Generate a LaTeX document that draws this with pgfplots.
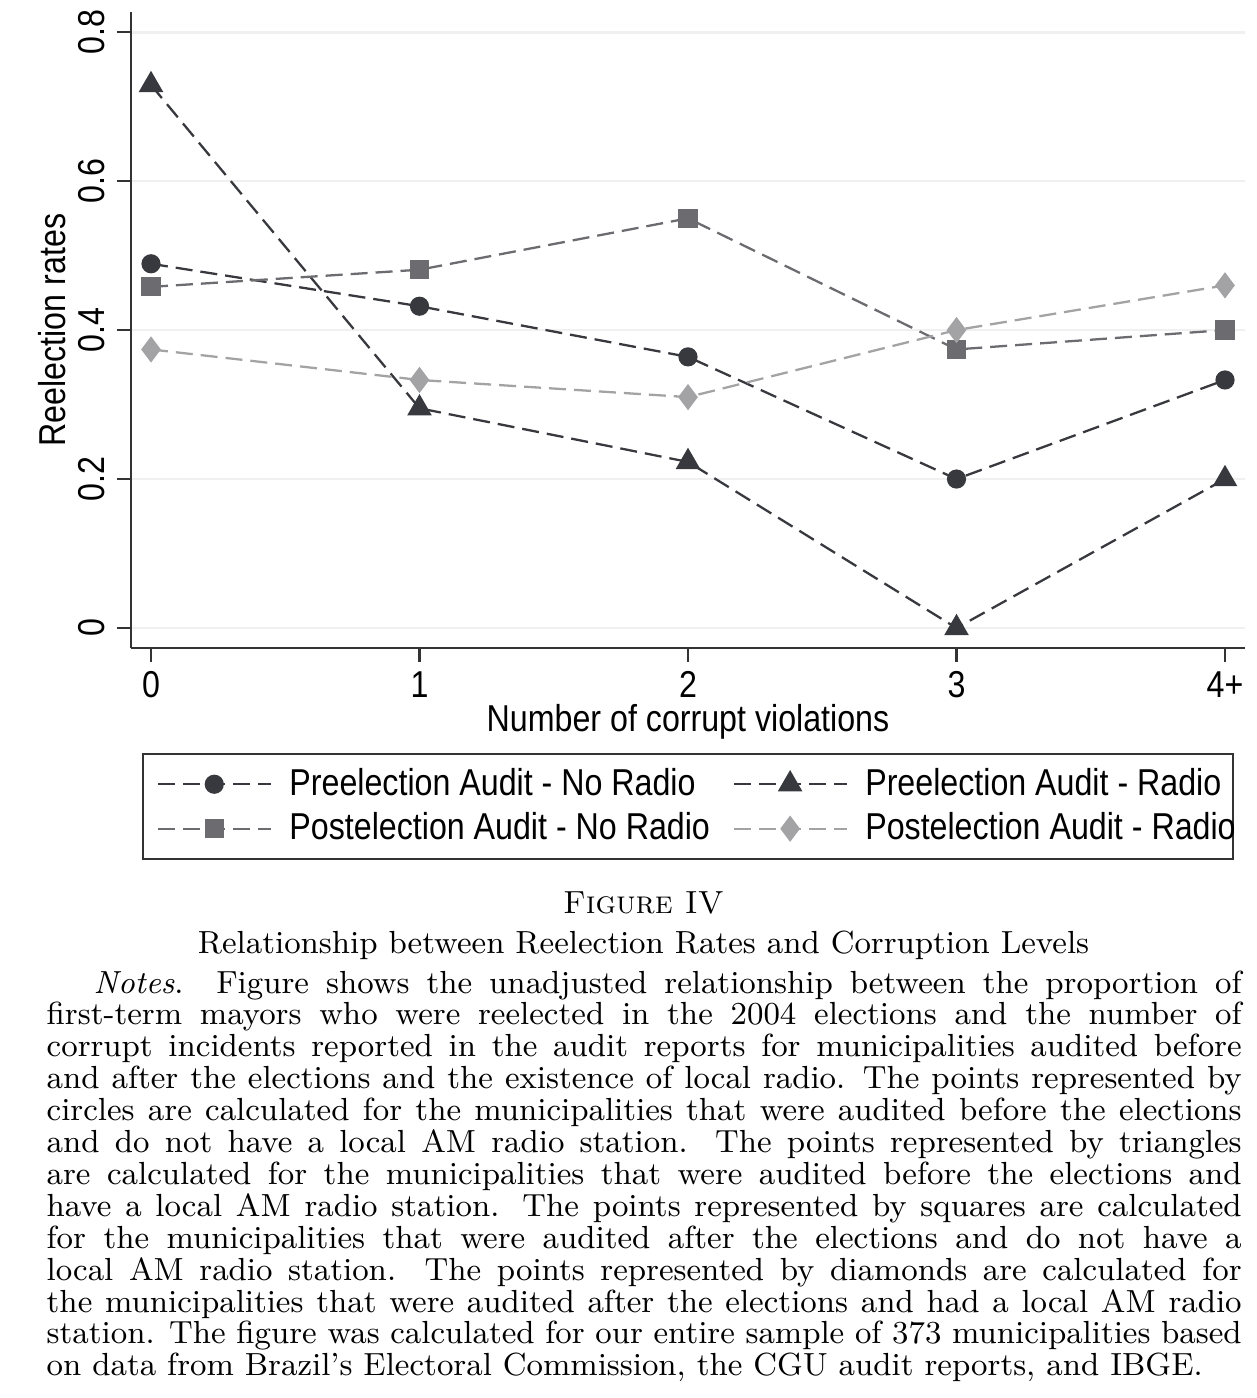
\documentclass[border=0pt]{standalone}
\usepackage{fontspec}
\usepackage{pgfplots}
\pgfplotsset{compat=1.18}

\newfontfamily\chartfont[FakeStretch=0.86]{Liberation Sans}
\newcommand\chartsize{\chartfont\fontsize{10.65}{12}\selectfont}
\newcommand\captfont{\rmfamily\fontsize{9.1}{9.07}\selectfont}

\definecolor{darkser}{HTML}{38393E}
\definecolor{midser}{HTML}{6B6B70}
\definecolor{lightser}{HTML}{A3A3A5}

\begin{document}
\begin{tikzpicture}[x=1cm,y=1cm]
\path[use as bounding box] (-1.31,-7.50) rectangle (11.25,6.48);
\begin{axis}[
    at={(0,0)}, anchor=south west,
    scale only axis, width=11.14cm, height=6.36cm,
    xmin=-0.0745, xmax=4.0745, ymin=-0.0268, ymax=0.827,
    axis x line*=bottom, axis y line*=left,
    axis line style={-, line width=0.6pt, color=black!80},
    tick align=outside, major tick length=0.14cm,
    tick style={line width=0.6pt, color=black!80},
    xtick={0,1,2,3,4}, xticklabels={0,1,2,3,4+},
    xticklabel style={inner sep=0.5pt, yshift=-0.07cm},
    ytick={0,0.2,0.4,0.6,0.8}, yticklabels={0,0.2,0.4,0.6,0.8},
    yticklabel style={rotate=90, anchor=south},
    ymajorgrids, grid style={color=black!6, line width=0.8pt},
    font=\chartsize,
    /pgf/number format/assume math mode=true,
    xlabel={Number of corrupt violations},
    ylabel={Reelection rates},
    xlabel style={at={(axis description cs:0.5,-0.1155)}, anchor=center, inner sep=0pt},
    ylabel style={at={(axis description cs:-0.0709,0.5)}, anchor=center},
    legend columns=2, legend cell align=left,
    legend style={at={(axis description cs:0.0099,-0.165)}, anchor=north west,
        draw=black!80, line width=0.6pt, font=\chartsize,
        inner xsep=4pt, inner ysep=2pt,
        /tikz/every odd column/.append style={column sep=0.1cm},
        /tikz/every even column/.append style={column sep=0.16cm},
        row sep=-0.02cm},
    legend image code/.code={\draw[mark repeat=2,mark phase=2,#1]
        plot coordinates {(0cm,0cm) (0.56cm,0cm) (1.13cm,0cm)};},
    every axis plot/.append style={line width=0.65pt, dash pattern=on 0.17cm off 0.08cm},
]
% preelection audit, no local radio
\addplot[color=darkser, mark=*, mark size=2.4pt, mark options={solid, fill=darkser}]
    coordinates {(0,0.489) (1,0.432) (2,0.364) (3,0.200) (4,0.333)};
\addlegendentry{Preelection Audit - No Radio}
% preelection audit, local radio
\addplot[color=darkser, mark=triangle*, mark size=3.4pt, mark options={solid, fill=darkser}]
    coordinates {(0,0.729) (1,0.295) (2,0.223) (3,0.000) (4,0.200)};
\addlegendentry{\makebox[3.47cm][l]{Preelection Audit - Radio}}
% postelection audit, no local radio
\addplot[color=midser, mark=square*, mark size=2.4pt, mark options={solid, fill=midser}]
    coordinates {(0,0.458) (1,0.481) (2,0.550) (3,0.374) (4,0.400)};
\addlegendentry{Postelection Audit - No Radio}
% postelection audit, local radio
\addplot[color=lightser, mark=diamond*, mark size=3.2pt, mark options={solid, fill=lightser}]
    coordinates {(0,0.374) (1,0.333) (2,0.310) (3,0.400) (4,0.460)};
\addlegendentry{\makebox[3.47cm][l]{Postelection Audit - Radio}}
\end{axis}

% caption
\node[anchor=base, inner sep=0pt, font=\captfont] at (5.125,-2.65) {\textsc{Figure IV}};
\node[anchor=base, inner sep=0pt, font=\captfont] at (5.125,-3.05) {Relationship between Reelection Rates and Corruption Levels};
\node[anchor=base west, inner sep=0pt, font=\captfont] at (-0.85,-3.450) {\hbox to 11.95cm{\hspace{0.47cm}\textit{Notes}. Figure shows the unadjusted relationship between the proportion of}};
\node[anchor=base west, inner sep=0pt, font=\captfont] at (-0.85,-3.769) {\hbox to 11.95cm{first-term mayors who were reelected in the 2004 elections and the number of}};
\node[anchor=base west, inner sep=0pt, font=\captfont] at (-0.85,-4.088) {\hbox to 11.95cm{corrupt incidents reported in the audit reports for municipalities audited before}};
\node[anchor=base west, inner sep=0pt, font=\captfont] at (-0.85,-4.407) {\hbox to 11.95cm{and after the elections and the existence of local radio. The points represented by}};
\node[anchor=base west, inner sep=0pt, font=\captfont] at (-0.85,-4.726) {\hbox to 11.95cm{circles are calculated for the municipalities that were audited before the elections}};
\node[anchor=base west, inner sep=0pt, font=\captfont] at (-0.85,-5.045) {\hbox to 11.95cm{and do not have a local AM radio station. The points represented by triangles}};
\node[anchor=base west, inner sep=0pt, font=\captfont] at (-0.85,-5.364) {\hbox to 11.95cm{are calculated for the municipalities that were audited before the elections and}};
\node[anchor=base west, inner sep=0pt, font=\captfont] at (-0.85,-5.683) {\hbox to 11.95cm{have a local AM radio station. The points represented by squares are calculated}};
\node[anchor=base west, inner sep=0pt, font=\captfont] at (-0.85,-6.002) {\hbox to 11.95cm{for the municipalities that were audited after the elections and do not have a}};
\node[anchor=base west, inner sep=0pt, font=\captfont] at (-0.85,-6.321) {\hbox to 11.95cm{local AM radio station. The points represented by diamonds are calculated for}};
\node[anchor=base west, inner sep=0pt, font=\captfont] at (-0.85,-6.640) {\hbox to 11.95cm{the municipalities that were audited after the elections and had a local AM radio}};
\node[anchor=base west, inner sep=0pt, font=\captfont] at (-0.85,-6.959) {\hbox to 11.95cm{station. The figure was calculated for our entire sample of 373 municipalities based}};
\node[anchor=base west, inner sep=0pt, font=\captfont] at (-0.85,-7.278) {on data from Brazil's Electoral Commission, the CGU audit reports, and IBGE.};
\end{tikzpicture}
\end{document}
